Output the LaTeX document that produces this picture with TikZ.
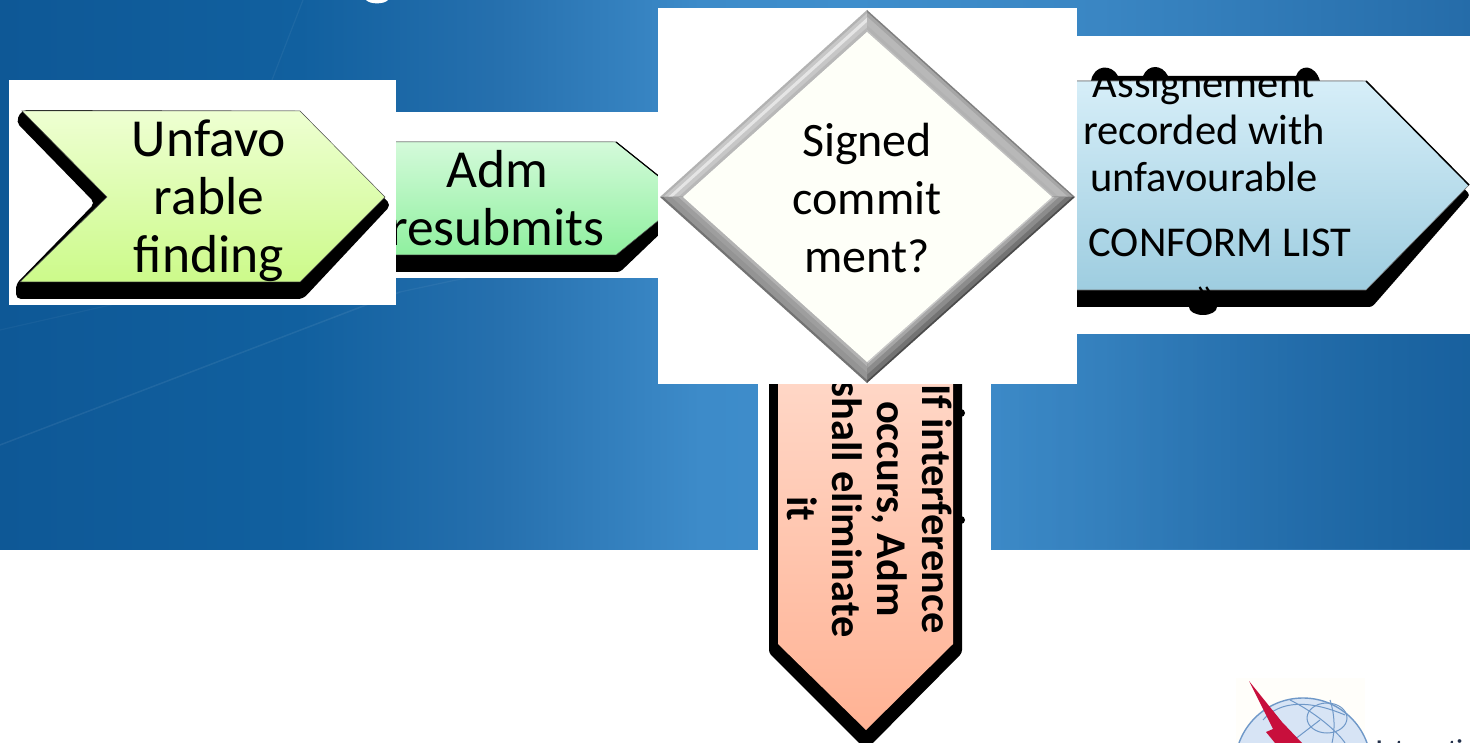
\documentclass[tikz,border=0pt]{standalone}
\usepackage{fontspec}
\setmainfont{Carlito}
\usetikzlibrary{calc,fadings}
\definecolor{bgA}{HTML}{0E5896}
\definecolor{bgB}{HTML}{11609F}
\definecolor{bgC}{HTML}{2670AE}
\definecolor{bgD}{HTML}{3D8BC9}
\definecolor{bgM}{HTML}{3F8ECC}
\definecolor{bgE}{HTML}{3A86C3}
\definecolor{bgF}{HTML}{256CA9}
\definecolor{gTwoTop}{HTML}{D4FADA}
\definecolor{gTwoBot}{HTML}{8FF09F}
\definecolor{gOneTop}{HTML}{EEFFD2}
\definecolor{gOneBot}{HTML}{CCFA8A}
\definecolor{peachTop}{HTML}{FFD8C8}
\definecolor{peachBot}{HTML}{FFB294}
\definecolor{blueTop}{HTML}{D6EEF8}
\definecolor{blueBot}{HTML}{9ECDE0}
\definecolor{ivory}{HTML}{FEFFF8}
\definecolor{globeFill}{HTML}{D7E4F5}
\definecolor{globeLine}{HTML}{6F98C8}
\definecolor{itured}{HTML}{C80F3C}
\definecolor{logoInk}{HTML}{23304A}
\definecolor{logoBack}{HTML}{FFFEFA}
\pgfdeclarehorizontalshading{bgshade}{100bp}{
 color(0bp)=(bgA); color(25bp)=(bgA); color(35.2bp)=(bgB); color(42bp)=(bgC); color(48.8bp)=(bgD); color(54bp)=(bgM); color(62.4bp)=(bgE); color(75bp)=(bgF); color(100bp)=(bgF)}
\tikzfading[name=towardright,left color=transparent!100,right color=transparent!0]
\newcommand{\bevelside}[5]{%
 \foreach \t/\c in {#5}{
  \fill[\c] ($(#1)!\t!(#4)$) -- ($(#2)!\t!(#3)$) -- (#3) -- (#4) -- cycle;}}
\tikzset{
 whitepanel/.style={fill=white},
 darkshadow/.style={fill=black,rounded corners=3pt},
 bigtext/.style={inner sep=0pt,align=center,font=\fontsize{53.5}{58}\selectfont},
 midtext/.style={inner sep=0pt,anchor=base,font=\fontsize{42.5}{46}\selectfont},
 boldtext/.style={inner sep=0pt,align=center,rotate=-90,font=\bfseries\fontsize{42.4}{45}\selectfont},
}
\begin{document}
\begin{tikzpicture}[x=1pt,y=-1pt]
\useasboundingbox (0,0) rectangle (1470,743);
\begin{scope}
\clip (0,0) rectangle (1470,743);
\fill[white] (0,0) rectangle (1470,743);
\shade[shading=bgshade] (0,0) rectangle (1470,549);
\fill[bgA,opacity=.55,path fading=towardright] (1000,300) rectangle (1470,549);
\draw[white,opacity=.07,line width=1.5pt] (0,445) -- (400,292);
\draw[white,opacity=.05,line width=1.2pt] (400,292) -- (760,215);
\draw[white,opacity=.05,line width=1.2pt] (303,0) -- (272,80);
\draw[white,opacity=.04,line width=1.2pt] (0,330) -- (300,262);
\fill[white] (366,0) .. controls (370,4.5) and (384,4.5) .. (388,0) -- cycle;
\fill[whitepanel] (396,112) rectangle (658,278);
\fill[whitepanel] (1077,36) rectangle (1470,334);
\fill[whitepanel] (758,384) rectangle (991,743);
% arrow 2
\fill[darkshadow] (390,142) -- (616,142) -- (690,205) -- (620,272) -- (390,272) -- cycle;
\shade[top color=gTwoTop,bottom color=gTwoBot,draw=black!70,line width=.5pt]
  (390,142) -- (616,142) -- (686,198) -- (616,255) -- (390,255) -- cycle;
\draw[black,line width=1.2pt] (616,142) -- (686,198);
\node[bigtext] (admtext) at (497,198) {Adm\\resubmits};
% down arrow
\fill[black] (961,413) circle (4);
\fill[black] (961,520) circle (4);
\fill[darkshadow] (769,370) -- (962,370) -- (962,653) -- (866,750) -- (769,653) -- cycle;
\shade[top color=peachTop,bottom color=peachBot]
  (778,370) -- (953,370) -- (953,644) -- (866,730) -- (778,644) -- cycle;
\node[boldtext] (dtext) at (870,509) {If interference\\occurs, Adm\\shall eliminate\\it};
% right arrow
\fill[black] (1091,81) .. controls (1094,64) and (1112,64) .. (1118,76) -- (1143,76) .. controls (1148,64) and (1162,64) .. (1168,76) -- (1296,76) .. controls (1300,64) and (1315,64) .. (1320,81) -- cycle;
\fill[black] (1203,307) ellipse (14 and 8);
\fill[darkshadow] (1070,81) -- (1366,81) -- (1470,195) -- (1372,307) -- (1070,307) -- cycle;
\shade[top color=blueTop,bottom color=blueBot,draw=black!55,line width=.6pt]
  (1070,81) -- (1366,81) -- (1469,185) -- (1366,290) -- (1070,290) -- cycle;
\draw[black,line width=1.5pt] (1366,81) -- (1469,185);
\node[midtext] (r1) at (1204,97.5) {Assignement};
\node[midtext] (r2) at (1204,144.5) {recorded with};
\node[midtext] (r3) at (1204,191.5) {unfavourable};
\node[midtext] (r4) at (1220,256.5) {CONFORM LIST};
\node[midtext] (r5) at (1205,306) {»};
% panel 1 and arrow 1
\fill[whitepanel] (9,80) rectangle (396,305);
\fill[fill=black,rounded corners=5pt] (16,122) -- (22,110) -- (300,111) -- (391,205) -- (303,299) -- (16,299) -- (16,284) -- (95,203) -- cycle;
\shade[top color=gOneTop,bottom color=gOneBot,draw=black!70,line width=.5pt]
  (22,111) -- (300,111) -- (385,197) -- (300,282) -- (20,282) -- (107,197) -- cycle;
\node[bigtext] (unftext) at (209,201) {Unfavo\\rable\\finding};
% panel 3 and diamond
\fill[whitepanel] (658,8) rectangle (1077,384);
\coordinate (OT) at (867,10);
\coordinate (OR) at (1075,197);
\coordinate (OB) at (867,383);
\coordinate (OL) at (660,197);
\coordinate (IT) at (867,32);
\coordinate (IR) at (1052,197);
\coordinate (IB) at (867,362);
\coordinate (IL) at (683,197);
\bevelside{OL}{OT}{IT}{IL}{0/black!30,.15/black!22,.35/black!10,.55/black!22,.8/black!28}
\bevelside{OT}{OR}{IR}{IT}{0/black!50,.1/black!35,.3/black!28,.7/black!30,.9/black!25}
\bevelside{OR}{OB}{IB}{IR}{0/black!70,.12/black!55,.4/black!45,.7/black!35,.9/black!22}
\bevelside{OB}{OL}{IL}{IB}{0/black!55,.15/black!42,.5/black!38,.8/black!30}
\fill[ivory] (IT) -- (IR) -- (IB) -- (IL) -- cycle;
\node[bigtext,font=\fontsize{48}{58}\selectfont] (dmtext) at (867,198) {Signed\\commit\\ment?};
% logo
\fill[logoBack] (1236,678) rectangle (1365,743);
\fill[globeFill,draw=globeLine,line width=1.4pt] (1303,766) circle (68);
\draw[globeLine,line width=1pt] (1327,718) ellipse (20 and 15);
\draw[globeLine,line width=1pt] (1290,700) .. controls (1320,715) and (1340,735) .. (1345,743);
\draw[globeLine,line width=1pt] (1330,700) .. controls (1335,715) and (1335,730) .. (1332,743);
\draw[globeLine,line width=1pt] (1263,720) .. controls (1280,700) and (1310,700) .. (1345,715);
\draw[globeLine,line width=1pt] (1290,743) -- (1320,720);
\fill[itured] (1249,681) -- (1282,722) -- (1302,743) -- (1275,743) -- (1266,732) -- (1273,729) -- cycle;
\node[inner sep=0pt,anchor=base west,text=logoInk,font=\bfseries\fontsize{24}{28}\selectfont] (logotext) at (1376,756) {International};
\end{scope}
\end{tikzpicture}
\end{document}
